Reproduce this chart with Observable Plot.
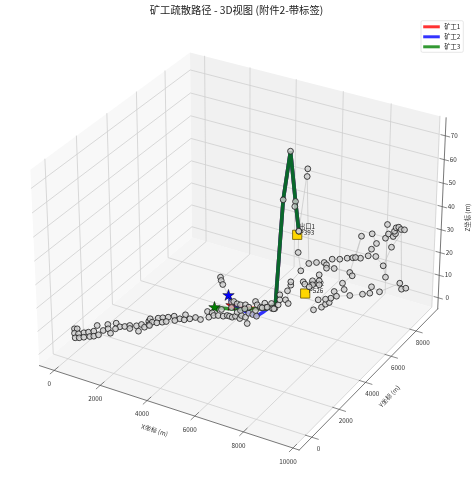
<!DOCTYPE html>
<html><head><meta charset="utf-8">
<style>html,body{margin:0;padding:0;background:#fff}svg{display:block;filter:blur(.3px)}</style>
<script src="https://cdn.jsdelivr.net/npm/d3@7"></script>
<script src="https://cdn.jsdelivr.net/npm/@observablehq/plot@0.6"></script>
</head><body><script>
// Axis values of the 3D box
const xTicks=[0,2000,4000,6000,8000,10000], yTicks=[0,2000,4000,6000,8000], zTicks=[0,10,20,30,40,50,60,70];
const xLim=[-650,10250], yLim=[-900,9800], zLim=[-5,77.5], paneXMax=10000;
// Nodes, as chains of projected [h, v] positions (the depth is not recoverable)
const westUpper=[[74,328.3],[76.7,328.3],[83.3,332.3],[88,331.7],[93.3,330.7],[96.7,325],[102.7,330],[107.3,324],[115.7,322.7],[119.3,326.3],[124.3,326],[129.3,325],[136,325.3],[141,324],[148.3,320.7],[149.7,318.3],[157.7,317.7],[162.3,317.3],[167.7,316.7],[173.7,315.7],[179.3,318.3],[185,314.3],[189.3,318.3],[195,317],[200,319],[207,311],[211.7,312.3],[221,309]];
const westLower=[[74,332.7],[78,333.3],[74.7,337.3],[78.7,337.3],[83.3,336.7],[89.3,336],[93.3,335.7],[98,334.3],[107.7,328.3],[110,332.7],[115,328.3],[129.3,328],[138,330.7],[144,326.7],[148.3,324.3],[151.7,321.7],[149,325],[156.3,322.3],[161.7,321.7],[165.7,321],[174.3,320],[183.7,319.3],[208.3,316.7],[213.3,315],[217.7,315],[222.7,315.7],[226.7,315],[229,315.7],[231.7,316.7],[235,315.7],[239.3,318],[241,315],[245,316.7],[246.7,323],[248.3,312.7],[252.3,314],[256,315.7]];
const branchNorth=[[220,276.7],[220.7,280],[222.3,284],[231,301.7],[233.3,301],[236.7,303.3],[240,304.3],[245,304.3],[248.3,306.7],[255,301],[256.7,304.3],[260,306.7],[264.3,302.7],[265.3,307],[271,303],[271.7,308],[274.3,308],[277.7,304.3]];
const centre=[[231,307],[236.7,311.7],[240,310],[244.3,308.3],[255,310],[261.7,307.3],[266.7,306.7],[273.3,308.3]];
const eastArc=[[279.3,294.3],[279.3,299.3],[285,299.3],[287.7,303],[287,290.3],[290.3,284.7],[290.3,281.3],[300.3,270.3],[308.3,263],[316,262],[323.7,262],[331.7,258.7],[339.3,258.7],[346.7,257.7],[352.3,257.3],[360,257.7],[367.7,255.3],[371,248.7],[376,243],[371.7,233.3]];
const eastInner=[[326,264.3],[326,267.7],[333.7,268],[349.3,272],[351.7,275.3],[342,282.7],[343.7,289],[333.7,291],[336,295.7]];
const eastLower=[[313,309.3],[321,306.7],[325,303.7],[328.7,302],[330.3,297.7],[336,295.7],[349.3,295],[362,293.7],[369.3,292.7],[371,286.3],[379,291.3],[399.3,282.7],[401,288.7],[405.3,287.7]];
const eastShort=[[317.7,299.3],[325,298.7],[330.3,297.7]];
const exitCluster=[[302.7,281.3],[304.3,283.7],[312,280.3],[318.7,274.3],[318.7,280.3],[318.7,284.3],[312,284.3],[308.7,286.3]];
const northEast=[[375.3,256],[382.7,265.3],[385,276.7],[387,224],[385,237.7],[388,233.5],[392.7,236],[395,233.3],[394,230.7],[395.7,227.3],[398.3,226.7],[400.7,229],[404,229.3],[391,246.7],[382.7,265.3]];
const spurA=[[361,235.7],[349.3,272]], spurB=[[400.7,229],[401,288.7]], spurC=[[361,235.7],[355,257]];
const peak=[[298.3,230.7],[307.3,168.3],[306.7,176],[308.3,263]], peakLow=[[298.3,230.7],[297.7,252],[300.3,270.3]];
const trunk=[[282.7,199.3],[290,150.7],[295,201],[294.3,206],[298.3,230.7]];
const chains=[westUpper,westLower,branchNorth,centre,eastArc,eastInner,eastLower,eastShort,exitCluster,northEast,spurA,spurB,spurC,peak,peakLow];
// Miner routes
const route1=[[231,305],[240,307],[256,308],[266,308],[275,303],[282.7,199.3],[290,150.7],[295,201],[298.3,230.7]];
const route2=[[228,295],[231,303],[245,311],[256,315.7],[262,312],[266,309],[275,303],[282.7,199.3],[290,150.7],[295,201],[298.3,230.7]];
const route3=[[214,307],[226,308],[240,309],[256,308],[266,308.5],[275,303],[282.7,199.3],[290,150.7],[295,201],[298.3,230.7]];
const miners=["矿工1","矿工2","矿工3"], minerColors=["red","blue","green"];
const starts=[[231,305],[228,295],[214,307]];
const exits=[[296.7,234.3],[304.7,293]], exitLabels=["出口1\nP393","出口2\nP526"];
const exitLabelPos=[[306.5,229.2],[315.5,287]];
const titleText="矿工疏散路径 - 3D视图 (附件2-带标签)";

// matplotlib-style view: elev 30, azim -60, box aspect 4:4:3, dist 10
const A=1.8294640721620434/Math.hypot(4,4,3);
function proj(x,y,z){
  const X=((x-xLim[0])/(xLim[1]-xLim[0])-.5)*4*A, Y=((y-yLim[0])/(yLim[1]-yLim[0])-.5)*4*A, Z=((z-zLim[0])/(zLim[1]-zLim[0])-.5)*3*A;
  const u=.8660254*X+.5*Y, v=-.25*X+.4330127*Y+.8660254*Z, n=.4330127*X-.75*Y+.5*Z, d=10-n;
  return {h:241.6+2605*u/d, v:241.6-2605*v/d};
}
const poly=(g,pts)=>pts.map(p=>({g,...proj(...p)}));
const pxm=paneXMax, [x0,x1]=xLim,[y0,y1]=yLim,[z0,z1]=zLim;
const wallL=poly("l",[[x0,y0,z0],[x0,y1,z0],[x0,y1,z1],[x0,y0,z1],[x0,y0,z0]]);
const wallB=poly("b",[[x0,y1,z0],[pxm,y1,z0],[pxm,y1,z1],[x0,y1,z1],[x0,y1,z0]]);
const floor=poly("f",[[x0,y0,z0],[pxm,y0,z0],[pxm,y1,z0],[x0,y1,z0],[x0,y0,z0]]);
const grid=[
 ...xTicks.flatMap(t=>poly("x"+t,[[t,y0,z0],[t,y1,z0],[t,y1,z1]])),
 ...yTicks.flatMap(t=>poly("y"+t,[[pxm,t,z0],[x0,t,z0],[x0,t,z1]])),
 ...zTicks.flatMap(t=>poly("z"+t,[[x0,y0,t],[x0,y1,t],[pxm,y1,t]]))];
const axes=[...poly("ax",[[x0,y0,z0],[x1,y0,z0]]),...poly("ay",[[x1,y0,z0],[x1,y1,z0]]),...poly("az",[[x1,y1,z0],[x1,y1,z1]])];
const tickD=260, tickZ=180;
const ticks=[
 ...xTicks.flatMap(t=>poly("tx"+t,[[t,y0-tickD,z0],[t,y0+tickD,z0]])),
 ...yTicks.flatMap(t=>poly("ty"+t,[[x1-tickD,t,z0],[x1+tickD,t,z0]])),
 ...zTicks.flatMap(t=>poly("tz"+t,[[x1-tickZ,y1,t],[x1+tickZ,y1,t]]))];
const xLab=xTicks.map(t=>({t,...proj(t,y0,z0)})), yLab=yTicks.map(t=>({t,...proj(x1,t,z0)})), zLab=zTicks.map(t=>({t,...proj(x1,y1,t)}));
const edgeRows=chains.flatMap((c,i)=>c.map(p=>({g:i,h:p[0],v:p[1]})));
const seen=new Set(), nodes=chains.flat().filter(p=>{const k=p.join();if(seen.has(k))return false;seen.add(k);return true}).map(p=>({h:p[0],v:p[1]}));
const rows=a=>a.map(p=>({h:p[0],v:p[1]}));
const FONT="'Noto Sans CJK SC','Noto Sans',sans-serif";
const legendY=[26.3,36.3,46.3];
const legendLine=legendY.flatMap((y,i)=>[{g:i,h:422.7,v:y,c:minerColors[i]},{g:i,h:439.3,v:y,c:minerColors[i]}]);
const nodeStyle={x:"h",y:"v",r:2.9,fill:"#cfcfcf",fillOpacity:.8,stroke:"#222",strokeWidth:.85};
const routeStyle={x:"h",y:"v",strokeWidth:3.7,strokeOpacity:.8,strokeLinejoin:"miter"};
const fig=Plot.plot({
  width:472,height:484,margin:0,style:{background:"#fff",fontFamily:FONT},
  x:{domain:[0,472],axis:null},y:{domain:[484,0],axis:null},color:{type:"identity"},
  marks:[
    Plot.line(floor,{x:"h",y:"v",fill:"#f5f5f5",stroke:"none"}),
    Plot.line(wallL,{x:"h",y:"v",fill:"#f8f8f8",stroke:"none"}),
    Plot.line(wallB,{x:"h",y:"v",fill:"#f1f1f1",stroke:"none"}),
    Plot.line(grid,{x:"h",y:"v",z:"g",stroke:"#cfcfcf",strokeWidth:.8}),
    Plot.line(axes,{x:"h",y:"v",z:"g",stroke:"#555",strokeWidth:.8}),
    Plot.line(ticks,{x:"h",y:"v",z:"g",stroke:"#555",strokeWidth:.7}),
    Plot.text(xLab,{x:"h",y:"v",text:d=>String(d.t),dx:-5,dy:13.7,fontSize:6.3,fill:"#333"}),
    Plot.text(yLab,{x:"h",y:"v",text:d=>String(d.t),dx:6.7,dy:12,fontSize:6.3,fill:"#333"}),
    Plot.text(zLab,{x:"h",y:"v",text:d=>String(d.t),dx:9,dy:0,fontSize:6.3,fill:"#333"}),
    Plot.text(["X坐标 (m)"],{x:[154],y:[430],rotate:18,fontSize:6.3,fill:"#333"}),
    Plot.text(["Y坐标 (m)"],{x:[389],y:[396],rotate:-47,fontSize:6.3,fill:"#333"}),
    Plot.text(["Z坐标 (m)"],{x:[467],y:[217],rotate:-90,fontSize:6.3,fill:"#333"}),
    Plot.line(edgeRows,{x:"h",y:"v",z:"g",stroke:"#c4c4c4",strokeWidth:.8,strokeOpacity:.85}),
    Plot.line(rows(route1),{...routeStyle,stroke:"red"}),
    Plot.line(rows(route2),{...routeStyle,stroke:"blue"}),
    Plot.line(rows(route3),{...routeStyle,stroke:"green"}),
    Plot.dot(rows(starts),{x:"h",y:"v",symbol:"star",r:3.6,fill:(d,i)=>minerColors[i],stroke:"#000",strokeWidth:.5}),
    Plot.dot(rows(exits),{x:"h",y:"v",symbol:"square",r:5.2,fill:"#ffd700",stroke:"#665500",strokeWidth:.8}),
    Plot.text(exitLabels,{x:exitLabelPos.map(d=>d[0]),y:exitLabelPos.map(d=>d[1]),fontSize:6.3,lineHeight:1.05,fill:"#222"}),
    Plot.dot(nodes,nodeStyle),
    Plot.dot(rows(trunk),nodeStyle),
    Plot.text([titleText],{x:[236],y:[10],fontSize:10.3,fill:"#222"}),
    Plot.rect([0],{x1:[421],x2:[463.3],y1:[20.7],y2:[52.3],fill:"#fff",fillOpacity:.8,stroke:"#ddd",strokeWidth:.7,rx:1.5}),
    Plot.line(legendLine,{x:"h",y:"v",z:"g",stroke:"c",strokeWidth:3,strokeOpacity:.8,strokeLinecap:"butt"}),
    Plot.text(miners,{x:[443.7,443.7,443.7],y:legendY,textAnchor:"start",fontSize:6.3,fill:"#222"})
  ]
});
document.body.appendChild(fig);
</script></body></html>
